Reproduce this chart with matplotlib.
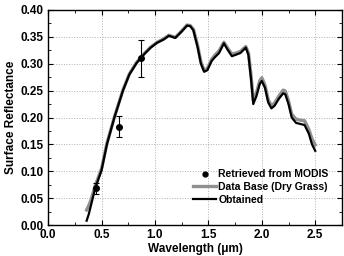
import matplotlib
matplotlib.use("Agg")
import matplotlib.pyplot as plt
from matplotlib.lines import Line2D
from matplotlib.ticker import MultipleLocator

plt.rcParams.update({
    "font.family": ["Liberation Sans", "DejaVu Sans"],
    "font.weight": "bold",
    "font.size": 8.5,
    "axes.labelweight": "bold",
})

# ── data ─────────────────────────────────────────────────────────────────────
wavelength = [0.36, 0.38, 0.40, 0.44, 0.50, 0.55, 0.62, 0.70, 0.76, 0.83,
              0.90, 0.96, 1.02, 1.08, 1.13, 1.19, 1.25, 1.30, 1.33, 1.36,
              1.40, 1.43, 1.46, 1.49, 1.53, 1.56, 1.60, 1.645, 1.68, 1.72,
              1.76, 1.80, 1.85, 1.875, 1.90, 1.92, 1.95, 1.98, 2.00, 2.03,
              2.06, 2.09, 2.12, 2.16, 2.20, 2.22, 2.25, 2.28, 2.32, 2.36,
              2.40, 2.44, 2.47, 2.50]
obtained = [0.008, 0.020, 0.036, 0.068, 0.102, 0.150, 0.200, 0.250, 0.280, 0.302,
            0.318, 0.330, 0.339, 0.345, 0.352, 0.348, 0.360, 0.371, 0.370, 0.362,
            0.330, 0.300, 0.285, 0.288, 0.305, 0.312, 0.320, 0.338, 0.326, 0.314,
            0.317, 0.320, 0.330, 0.316, 0.270, 0.225, 0.240, 0.262, 0.268, 0.255,
            0.228, 0.217, 0.222, 0.235, 0.245, 0.243, 0.225, 0.200, 0.190, 0.188,
            0.186, 0.170, 0.150, 0.138]
dry_grass = [0.028, 0.036, 0.046, 0.073, 0.105, 0.152, 0.201, 0.251, 0.281, 0.303,
             0.319, 0.331, 0.340, 0.346, 0.353, 0.349, 0.361, 0.372, 0.371, 0.364,
             0.333, 0.303, 0.288, 0.291, 0.308, 0.316, 0.324, 0.340, 0.329, 0.318,
             0.320, 0.323, 0.332, 0.320, 0.276, 0.232, 0.246, 0.268, 0.274, 0.260,
             0.233, 0.222, 0.227, 0.240, 0.251, 0.249, 0.231, 0.206, 0.197, 0.195,
             0.194, 0.178, 0.160, 0.149]

modis_wl = [0.445, 0.665, 0.865]
modis_refl = [0.068, 0.183, 0.310]
modis_err = [0.010, 0.020, 0.035]

fig = plt.figure(figsize=(3.44, 2.56), dpi=100)
ax = fig.add_axes([0.140, 0.121, 0.854, 0.840])

ax.plot(wavelength, dry_grass, color="#909090", linewidth=2.4, zorder=2)
ax.plot(wavelength, obtained, color="black", linewidth=1.6, zorder=3)
ax.errorbar(modis_wl, modis_refl, yerr=modis_err, fmt="o", color="black",
            markersize=4, capsize=2.5, elinewidth=0.8, capthick=0.8, zorder=4)

ax.set_xlim(0, 2.75)
ax.set_ylim(0, 0.40)
ax.set_xticks([0, 0.5, 1.0, 1.5, 2.0, 2.5])
ax.set_xticklabels(["0.0", "0.5", "1.0", "1.5", "2.0", "2.5"])
ax.xaxis.set_minor_locator(MultipleLocator(0.25))
ax.yaxis.set_major_locator(MultipleLocator(0.05))
ax.yaxis.set_minor_locator(MultipleLocator(0.025))
ax.yaxis.set_major_formatter(plt.FormatStrFormatter("%.2f"))
ax.tick_params(which="both", direction="in", top=True, right=True, labelsize=8.5)
ax.tick_params(which="major", length=3.5, width=0.8, pad=3)
ax.tick_params(which="minor", length=2, width=0.6)
ax.grid(which="major", color="#b0b0b0", linestyle=":", linewidth=0.7, zorder=0)
for s in ax.spines.values():
    s.set_linewidth(1.0)

ax.set_xlabel("Wavelength (μm)", fontsize=8.5, labelpad=1)
ax.set_ylabel("Surface Reflectance", fontsize=8.5, labelpad=3)

handles = [
    Line2D([], [], linestyle="none", marker="o", markersize=3.5, color="black"),
    Line2D([], [], color="#909090", linewidth=2.4),
    Line2D([], [], color="black", linewidth=1.6),
]
labels = ["Retrieved from MODIS", "Data Base (Dry Grass)", "Obtained"]
ax.legend(handles, labels, loc="lower right", bbox_to_anchor=(0.955, 0.095),
          frameon=False, fontsize=7.5, handlelength=2.2, handletextpad=0.2,
          labelspacing=0.25, borderpad=0, borderaxespad=0)

fig.savefig("out.png", dpi=100)
